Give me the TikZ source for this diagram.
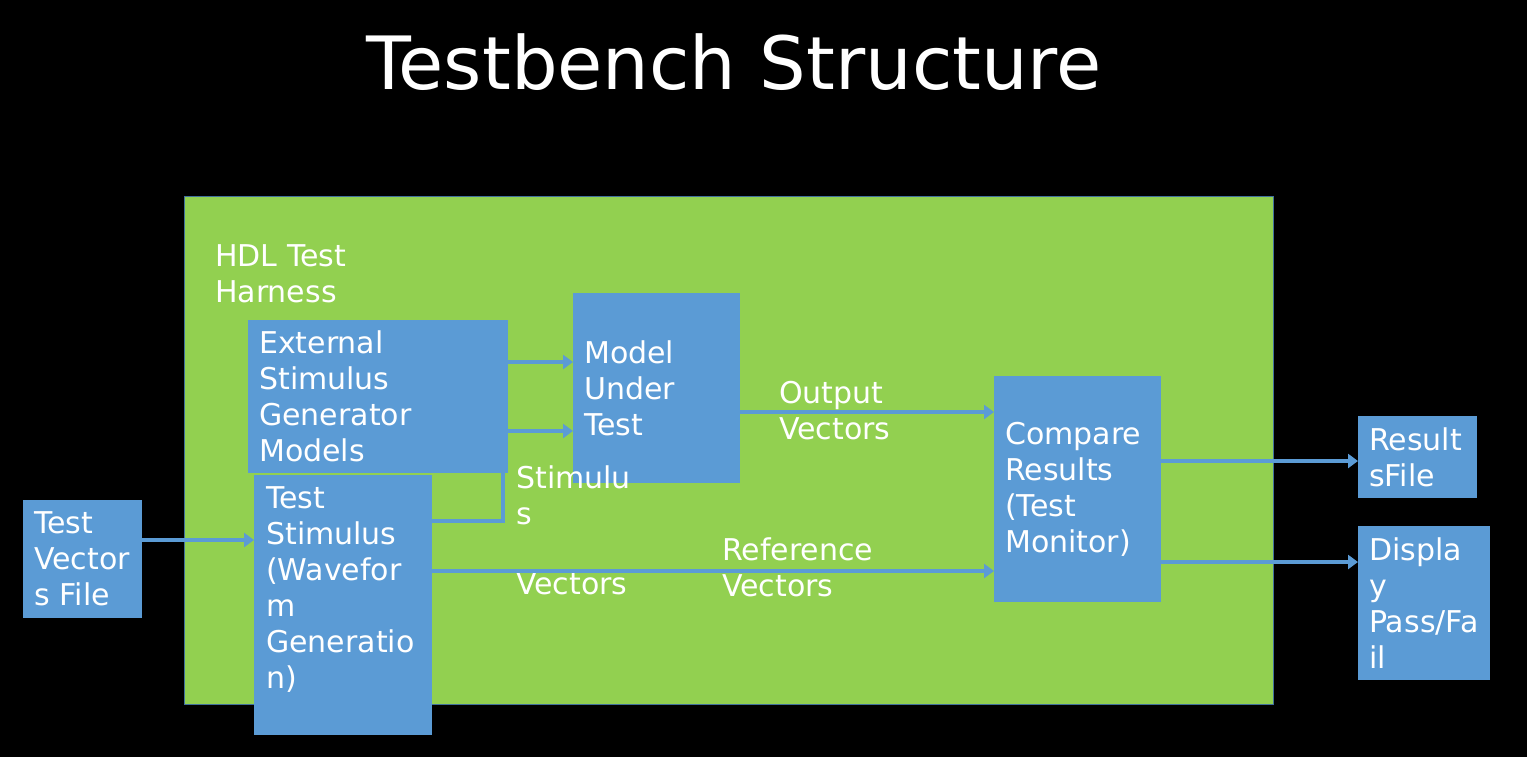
\documentclass[tikz,border=0pt]{standalone}
\usepackage{fontspec}
\setmainfont{DejaVu Sans}
\usetikzlibrary{arrows.meta,positioning,calc}
\definecolor{harnessgreen}{RGB}{146,208,80}
\definecolor{blockblue}{RGB}{91,155,213}
\definecolor{framegray}{RGB}{65,113,156}

\begin{document}
\begin{tikzpicture}[
    x=1pt, y=-1pt,
    box/.style={rectangle, fill=blockblue, anchor=north west, inner xsep=11pt,
                inner ysep=0pt, align=left, text=white,
                font=\fontsize{30}{36}\selectfont},
    txt/.style={anchor=north west, inner sep=0pt, align=left, text=white,
                font=\fontsize{30}{36}\selectfont},
    conn/.style={-{Triangle[length=10pt, width=14pt]}, line width=3.2pt, blockblue},
    wire/.style={line width=3.2pt, blockblue}
]
% Background and frame
\useasboundingbox (0,0) rectangle (1527,756);
\fill[black] (-6,-6) rectangle (1533,762);

\node[anchor=base, text=white, font=\fontsize{73.5}{86}\selectfont] (title)
    at (734,89) {Testbench Structure};

% Harness
\node[rectangle, draw=framegray, line width=1.4pt, fill=harnessgreen, anchor=north west,
      minimum width=1089pt, minimum height=508pt] (harness) at (184,196) {};
\node[txt] (harnesslbl) at (215,244) {HDL Test\\Harness};

% Blocks
\node[box, text width=238pt, minimum height=153pt] (ext) at (248,320)
    {External\\Stimulus\\Generator\\Models};
\node[box, text width=145pt, minimum height=190pt] (mut) at (573,293)
    {Model\\Under\\Test};
\node[box, text width=145pt, minimum height=226pt] (cmp) at (994,376)
    {Compare\\Results\\(Test\\Monitor)};
\node[box, minimum width=178pt, minimum height=260pt] (stim) at (254,475) {};
\node[txt] (stimtext) at (266,486)
    {Test\\Stimulus\\(Wavefor\\m\\Generatio\\n)};
\node[box, text width=97pt, minimum height=118pt] (tvf) at (23,500)
    {Test\\Vector\\s File};
\node[box, text width=97pt, minimum height=82pt] (res) at (1358,416)
    {Result\\sFile};
\node[box, text width=110pt, minimum height=154pt] (disp) at (1358,526)
    {Displa\\y\\Pass/Fa\\il};

% Labels
\node[txt] (stimlbl) at (516,465) {Stimulu\\s};
\node[txt] (veclbl) at (516,572) {Vectors};
\node[txt] (reflbl) at (722,537) {Reference\\Vectors};
\node[txt] (outlbl) at (779,381) {Output\\Vectors};

% Connectors
\draw[conn] ($(ext.north east)+(0,42)$) -- ($(mut.north west)+(0,69)$);
\draw[conn] ($(ext.north east)+(0,111)$) -- ($(mut.north west)+(0,138)$);
\draw[conn] ($(tvf.north east)+(0,40)$) -- ($(stim.north west)+(0,65)$);
\draw[wire] ($(stim.north east)+(0,46)$) -| ($(ext.south west)+(255,0)$);
\draw[conn] ($(stim.north east)+(0,96)$) -- ($(cmp.north west)+(0,195)$);
\draw[conn] ($(mut.north east)+(0,119)$) -- ($(cmp.north west)+(0,36)$);
\draw[conn] ($(cmp.north east)+(0,85)$) -- ($(res.north west)+(0,45)$);
\draw[conn] ($(cmp.north east)+(0,186)$) -- ($(disp.north west)+(0,36)$);
\end{tikzpicture}
\end{document}
